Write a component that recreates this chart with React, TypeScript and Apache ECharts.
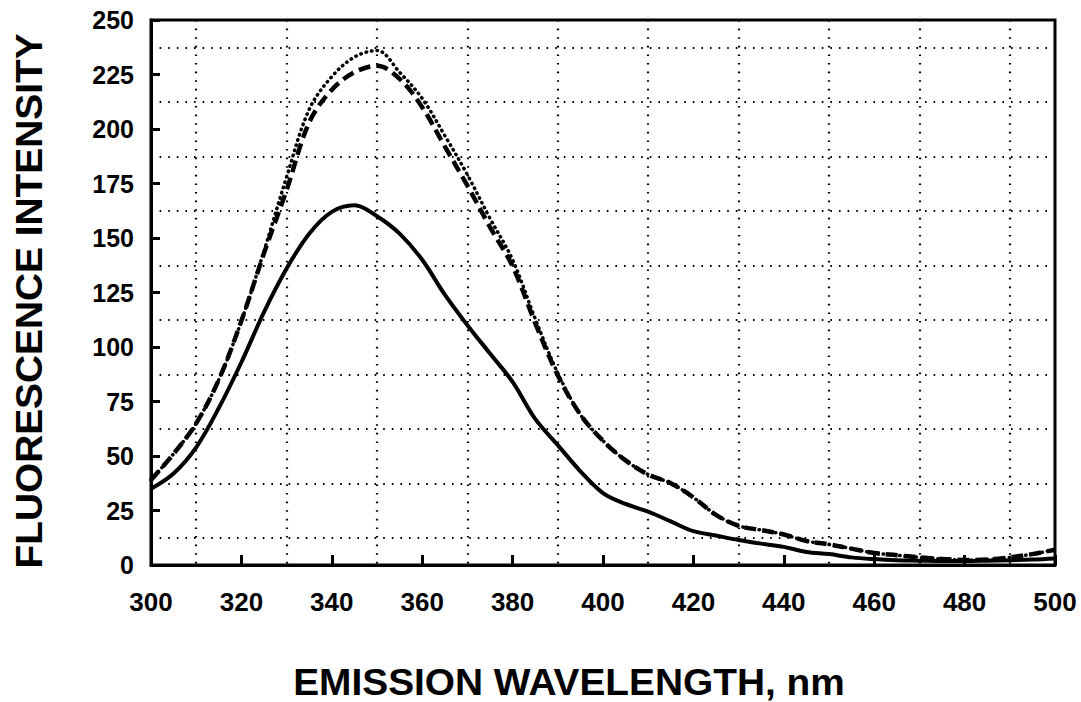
import React, { useEffect, useRef } from "react";
import * as echarts from "echarts";

const wavelengths = [
  300, 305, 310, 315, 320, 325, 330, 335, 340, 345, 350, 355, 360, 365, 370, 375, 380, 385, 390, 395,
  400, 405, 410, 415, 420, 425, 430, 435, 440, 445, 450, 455, 460, 465, 470, 475, 480, 485, 490, 495, 500,
];

const solidValues = [
  35, 42, 54, 72, 93, 116, 136, 152, 162, 165, 160, 152, 140, 124, 110, 97, 84, 67, 55, 43,
  33, 28, 24.5, 20, 15.5, 13.5, 11.5, 9.8, 8.3, 6, 5, 3.5, 2.7, 2.2, 2, 1.8, 1.8, 2, 2.2, 2.5, 3,
];

const dashedValues = [
  39, 51, 65, 85, 112, 143, 172, 203, 218, 226, 229, 223, 210, 192, 174, 155, 137, 111, 87, 69,
  57, 48, 41.5, 37.5, 31, 23, 18, 16, 14, 11, 9.5, 7.5, 5.5, 4.5, 3.5, 2.8, 2.3, 2.5, 3.5, 5, 7,
];

const dottedValues = [
  39, 51, 65, 85, 112, 144, 178, 209, 224, 233, 236, 226, 214, 197, 179, 159, 140, 113, 88, 69,
  57, 48, 41.5, 37.5, 31, 23, 18, 16, 14, 11, 9.5, 7.5, 5.5, 4.5, 3.5, 2.8, 2.3, 2.5, 3.5, 5, 7,
];

const xTitle = "EMISSION WAVELENGTH, nm";
const yTitle = "FLUORESCENCE INTENSITY";

const FONT = "'Liberation Sans', Arial, Helvetica, sans-serif";

export default function App() {
  const ref = useRef<HTMLDivElement>(null);

  useEffect(() => {
    if (!ref.current) return;
    const chart = echarts.init(ref.current, null, { renderer: "svg" });
    const pair = (vals: number[]) => wavelengths.map((w, i) => [w, vals[i]]);
    const gridDot = { color: "#000", width: 2.2, type: [1.6, 7] as number[] };
    chart.setOption({
      animation: false,
      backgroundColor: "#fff",
      grid: {
        left: 151,
        top: 20,
        right: 26,
        bottom: 137,
        show: true,
        borderColor: "#000",
        borderWidth: 3,
      },
      xAxis: {
        type: "value",
        min: 300,
        max: 500,
        interval: 20,
        axisLine: { show: true, lineStyle: { color: "#000", width: 3 } },
        axisTick: { show: true, inside: true, length: 10, lineStyle: { color: "#000", width: 3 } },
        axisLabel: {
          color: "#000",
          fontFamily: FONT,
          fontWeight: "bold",
          fontSize: 26,
          margin: 24,
        },
        splitLine: { show: false },
        minorTick: { show: false, splitNumber: 2 },
        minorSplitLine: { show: true, lineStyle: gridDot },
      },
      yAxis: {
        type: "value",
        min: 0,
        max: 250,
        interval: 25,
        axisLine: { show: true, lineStyle: { color: "#000", width: 3 } },
        axisTick: { show: true, inside: true, length: 9, lineStyle: { color: "#000", width: 3 } },
        axisLabel: {
          color: "#000",
          fontFamily: FONT,
          fontWeight: "bold",
          fontSize: 25,
          margin: 17,
        },
        splitLine: { show: false },
        minorTick: { show: false, splitNumber: 2 },
        minorSplitLine: { show: true, lineStyle: gridDot },
      },
      graphic: [
        {
          type: "text",
          x: 569,
          y: 682,
          scaleX: 1.05,
          style: {
            text: xTitle,
            fill: "#000",
            font: `bold 37px ${FONT}`,
            align: "center",
            verticalAlign: "middle",
          },
        },
        {
          type: "text",
          x: 29,
          y: 301,
          rotation: Math.PI / 2,
          scaleX: 1.05,
          style: {
            text: yTitle,
            fill: "#000",
            font: `bold 37px ${FONT}`,
            align: "center",
            verticalAlign: "middle",
          },
        },
      ],
      series: [
        {
          name: "dotted",
          type: "line",
          data: pair(dottedValues),
          showSymbol: false,
          smooth: 0.35,
          lineStyle: { color: "#000", width: 3.5, type: [0.5, 5], cap: "round" },
          z: 2,
        },
        {
          name: "dashed",
          type: "line",
          data: pair(dashedValues),
          showSymbol: false,
          smooth: 0.35,
          lineStyle: { color: "#000", width: 4.5, type: [12, 6] },
          z: 3,
        },
        {
          name: "solid",
          type: "line",
          data: pair(solidValues),
          showSymbol: false,
          smooth: 0.35,
          lineStyle: { color: "#000", width: 4 },
          z: 4,
        },
      ],
    });
    return () => chart.dispose();
  }, []);

  return (
    <div
      ref={ref}
      style={{ position: "fixed", left: 0, top: 0, width: 1081, height: 702, background: "#fff" }}
    />
  );
}
